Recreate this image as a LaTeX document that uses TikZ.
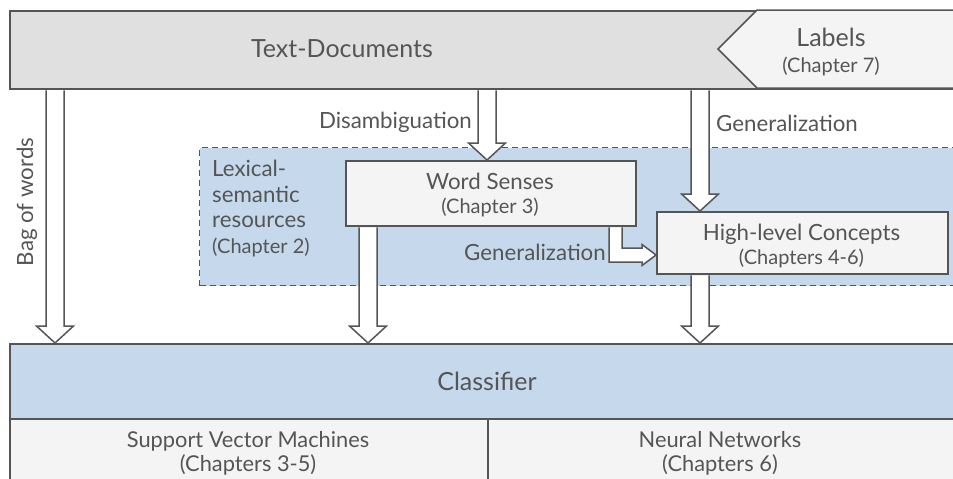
\documentclass[tikz,border=0pt]{standalone}
\usepackage{fontspec}
\setmainfont{Lato}
\usetikzlibrary{calc}
\definecolor{lc}{HTML}{555555}
\definecolor{tc}{HTML}{555555}
\definecolor{gfill}{HTML}{E0E0E0}
\definecolor{lfill}{HTML}{F4F4F4}
\definecolor{bfill}{HTML}{C5D8EC}
\newcommand\fbig{\fontsize{25}{26}\selectfont}
\newcommand\fmid{\fontsize{22.3}{24}\selectfont}
\newcommand\flex{\fontsize{22.3}{25.5}\selectfont}
\newcommand\fsml{\fontsize{20}{24}\selectfont}
\newcommand\fbot{\fontsize{21.8}{24}\selectfont}
\tikzset{
  box/.style={draw=lc, line width=1.5pt, rectangle, inner sep=0pt, anchor=north west},
  fat/.style={draw=lc, line width=1.5pt, fill=white, line join=miter},
  txt/.style={text=tc, inner sep=0pt},
}
\newcommand\fatdown[3]{\draw[fat] let \p1=(#2.south), \p2=(#3.north) in
  ({(#1)*1pt-9pt},{\y1-0.75pt}) -- ({(#1)*1pt-9pt},{\y2+17pt}) -- ({(#1)*1pt-18.5pt},{\y2+17pt}) --
  ({(#1)*1pt},\y2) -- ({(#1)*1pt+18.5pt},{\y2+17pt}) -- ({(#1)*1pt+9pt},{\y2+17pt}) -- ({(#1)*1pt+9pt},{\y1-0.75pt});}
\begin{document}
\begin{tikzpicture}[x=1pt,y=-1pt]
\clip (0,0) rectangle (953,479);
% top bar
\node[box, fill=gfill, minimum width=966pt, minimum height=78pt] (docs) at (9,10) {};
\node[txt, font=\fbig] (docstext) at (342,49) {Text-Documents};
\draw[draw=lc, line width=1.5pt, fill=lfill] (718,49) -- (757,10) -- (980,10) -- (980,88) -- (757,88) -- cycle;
\node[txt, align=center, font=\fbig] (labels) at (831,52) {Labels\\{\fsml (Chapter 7)}};
% lexical region
\node[box, fill=bfill, dashed, dash pattern=on 6pt off 4pt, line width=1.2pt, minimum width=780pt, minimum height=138pt] (lex) at (199,147) {};
\node[txt, align=left, anchor=north west, font=\flex] (lextext) at (212,160) {Lexical-\\semantic\\resources\\{\fsml (Chapter 2)}};
% word senses / high-level
\node[box, fill=lfill, minimum width=290pt, minimum height=65pt] (ws) at (345,160) {};
\node[txt, align=center, font=\fmid] (wstext) at (490,195) {Word Senses\\{\fsml (Chapter 3)}};
\node[box, fill=lfill, minimum width=291pt, minimum height=62pt] (hl) at (656,211) {};
\node[txt, align=center, font=\fmid] (hltext) at (801.5,246) {High-level Concepts\\{\fsml (Chapters 4-6)}};
% classifier
\node[box, fill=bfill, minimum width=960pt, minimum height=75pt] (clf) at (9,343) {};
\node[txt, font=\fbig] (clftext) at (487,381) {Classifier};
\node[box, fill=lfill, minimum width=478pt, minimum height=80pt] (svm) at (9,418) {};
\node[box, fill=lfill, minimum width=480pt, minimum height=80pt] (nn) at (487,418) {};
\node[txt, align=center, font=\fbot] (svmtext) at (248,453) {Support Vector Machines\\(Chapters 3-5)};
\node[txt, align=center, font=\fbot] (nntext) at (720,453) {Neural Networks\\(Chapters 6)};
% arrows
\fatdown{55}{docs}{clf}
\fatdown{487}{docs}{ws}
\fatdown{700}{docs}{hl}
\fatdown{368}{ws}{clf}
\fatdown{700}{hl}{clf}
\coordinate (lx) at (615.5,255);
\draw[fat] let \p1=(ws.south), \p2=(hl.west), \p3=(lx) in
  (\x3-6.5pt,{\y1-0.75pt}) -- (\x3-6.5pt,\y3-7pt) -- (\x2-14pt,\y3-7pt) -- (\x2-14pt,\y3-10.5pt) --
  (\x2,\y3) -- (\x2-14pt,\y3+10.5pt) -- (\x2-14pt,\y3+7pt) -- (\x3+6.5pt,\y3+7pt) -- (\x3+6.5pt,{\y1-0.75pt});
% arrow labels
\node[txt, font=\fmid, rotate=90] (bow) at (27,202) {Bag of words};
\node[txt, font=\fmid, anchor=east] (dis) at (472,122) {Disambiguation};
\node[txt, font=\fmid, anchor=west] (gen1) at (716,123) {Generalization};
\node[txt, font=\fmid, anchor=east] (gen2) at (606,252) {Generalization};
\end{tikzpicture}
\end{document}
